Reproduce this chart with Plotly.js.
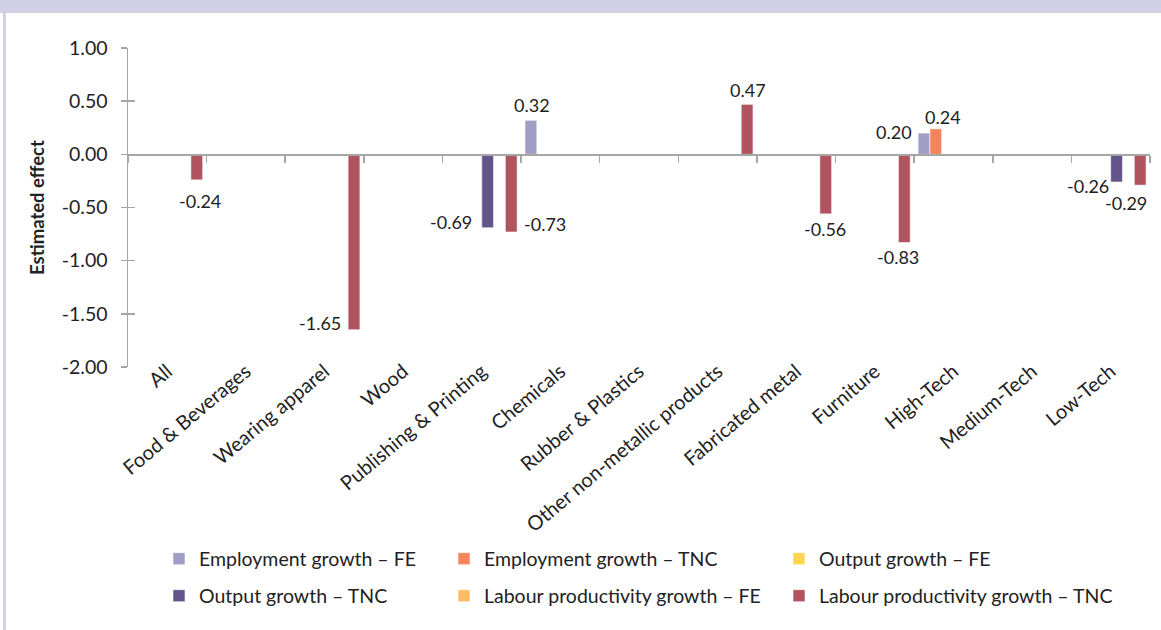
<!DOCTYPE html>
<html>
<head>
<meta charset="utf-8">
<script src="https://cdn.plot.ly/plotly-3.0.1.min.js"></script>
<style>
  html, body { margin: 0; padding: 0; background: #ffffff; }
  #chart { width: 1161px; height: 630px; }
</style>
</head>
<body>
<div id="chart"></div>
<script>
// ---------------- DATA ----------------
const categories = [
  'All', 'Food & Beverages', 'Wearing apparel', 'Wood', 'Publishing & Printing',
  'Chemicals', 'Rubber & Plastics', 'Other non-metallic products', 'Fabricated metal',
  'Furniture', 'High-Tech', 'Medium-Tech', 'Low-Tech'
];
const seriesNames = [
  'Employment growth – FE', 'Employment growth – TNC', 'Output growth – FE',
  'Output growth – TNC', 'Labour productivity growth – FE', 'Labour productivity growth – TNC'
];
const employmentFE  = [null, null, null, null, null, 0.32, null, null, null, null, 0.20, null, null];
const employmentTNC = [null, null, null, null, null, null, null, null, null, null, 0.24, null, null];
const outputFE      = [null, null, null, null, null, null, null, null, null, null, null, null, null];
const outputTNC     = [null, null, null, null, -0.69, null, null, null, null, null, null, null, -0.26];
const labourFE      = [null, null, null, null, null, null, null, null, null, null, null, null, null];
const labourTNC     = [-0.24, null, -1.65, null, -0.73, null, null, 0.47, -0.56, -0.83, null, null, -0.29];
const yTickVals = [1, 0.5, 0, -0.5, -1, -1.5, -2];
const yTickText = ['1.00', '0.50', '0.00', '-0.50', '-1.00', '-1.50', '-2.00'];

// ---------------- STYLE ----------------
const seriesValues = [employmentFE, employmentTNC, outputFE, outputTNC, labourFE, labourTNC];
const colors = ['#A09DC6', '#F4845C', '#FFD64D', '#63548B', '#FDBB63', '#B05460'];
const FONT = 'Lato, "Open Sans", sans-serif';
const TXT = '#222222';
const AXIS = '#A6A6A6';

// plot area in pixels
const L = 128, R = 1150, T = 48, B = 367, W = 1161, H = 630;
const px = x => (x - L) / (R - L);
const py = y => (B - y) / (B - T);
const Y_MIN = -2, Y_MAX = 1;

// data label placement (offsets from bar centre / bar end, pixels)
const labelStyle = {
  '5-0':  {xa: 'center', dx: 3,   dy: -21},
  '5-2':  {xa: 'right',  dx: -11, dy: 7},
  '3-4':  {xa: 'right',  dx: -14, dy: 6},
  '5-4':  {xa: 'left',   dx: 11,  dy: 8},
  '0-5':  {xa: 'center', dx: 1,   dy: 15},
  '5-7':  {xa: 'center', dx: 1,   dy: 14},
  '5-8':  {xa: 'center', dx: -1,  dy: -15},
  '5-9':  {xa: 'center', dx: -6,  dy: -14},
  '0-10': {xa: 'right',  dx: -10, dy: 1},
  '1-10': {xa: 'center', dx: 7,   dy: 12},
  '3-12': {xa: 'right',  dx: -6,  dy: -4},
  '5-12': {xa: 'center', dx: -14, dy: -18}
};

const BARGAP = 0.1;
const nS = seriesNames.length;
const barW = (1 - BARGAP) / nS;

// legend positions (6 separate legends, 3 columns x 2 rows)
const legendCols = [159, 444, 779];
const legendRows = [559, 596];
const legendOrder = [[0, 0], [1, 0], [2, 0], [0, 1], [1, 1], [2, 1]]; // [col,row] per series

const traces = seriesNames.map((name, s) => ({
  type: 'bar',
  name: name,
  x: categories,
  y: seriesValues[s],
  marker: {color: colors[s], line: {color: 'rgba(255,255,255,0.7)', width: 0.8}},
  legend: s === 0 ? 'legend' : 'legend' + (s + 1),
  hoverinfo: 'name+y'
}));

// invisible helper trace so the zero-line axis (with boundary ticks) is drawn
traces.push({
  type: 'scatter', mode: 'markers',
  x: categories, y: categories.map(() => null),
  xaxis: 'x2', yaxis: 'y2',
  showlegend: false, hoverinfo: 'skip',
  marker: {opacity: 0}
});

const annotations = [];
seriesValues.forEach((vals, s) => {
  vals.forEach((v, c) => {
    if (v === null) return;
    const st = labelStyle[s + '-' + c] || {xa: 'center', dx: 0, dy: v >= 0 ? 14 : -14};
    annotations.push({
      x: c + (s - (nS - 1) / 2) * barW,
      y: v,
      xref: 'x', yref: 'y',
      text: v.toFixed(2),
      showarrow: false,
      xanchor: st.xa, yanchor: 'middle',
      xshift: st.dx, yshift: st.dy,
      font: {family: FONT, size: 18, color: TXT}
    });
  });
});

const layout = {
  width: W, height: H,
  margin: {l: L, r: W - R, t: T, b: H - B, pad: 0},
  paper_bgcolor: '#ffffff',
  plot_bgcolor: 'rgba(0,0,0,0)',
  barmode: 'group',
  bargap: BARGAP,
  bargroupgap: 0,
  font: {family: FONT, size: 18, color: TXT},
  xaxis: {
    type: 'category',
    range: [-0.5, categories.length - 0.5],
    fixedrange: true,
    showline: false, ticks: '', showgrid: false, zeroline: false,
    tickangle: -40,
    ticklabelstandoff: -12,
    tickfont: {family: FONT, size: 20, color: TXT},
    automargin: false
  },
  xaxis2: {
    type: 'category',
    overlaying: 'x', anchor: 'free', position: (0 - Y_MIN) / (Y_MAX - Y_MIN),
    range: [-0.5, categories.length - 0.5],
    tickson: 'boundaries',
    ticks: 'outside', ticklen: 7, tickwidth: 1.5, tickcolor: AXIS,
    showline: true, linecolor: AXIS, linewidth: 1.8,
    showticklabels: false, showgrid: false, zeroline: false
  },
  yaxis: {
    range: [Y_MIN, Y_MAX],
    fixedrange: true,
    tickvals: yTickVals, ticktext: yTickText,
    ticks: 'outside', ticklen: 6, tickwidth: 1.5, tickcolor: AXIS,
    showline: true, linecolor: AXIS, linewidth: 1.5,
    showgrid: false, zeroline: false,
    ticklabelstandoff: 9,
    tickfont: {family: FONT, size: 19.5, color: TXT},
    automargin: false,
    title: {text: '<b>Estimated effect</b>', font: {family: FONT, size: 18.5, color: TXT}, standoff: 12}
  },
  yaxis2: {
    overlaying: 'y', anchor: 'x', side: 'left',
    range: [Y_MIN, Y_MAX],
    tickvals: yTickVals,
    ticks: 'inside', ticklen: 7, tickwidth: 1.5, tickcolor: AXIS,
    showline: false, showticklabels: false, showgrid: false, zeroline: false
  },
  annotations: annotations,
  shapes: [
    {type: 'rect', xref: 'paper', yref: 'paper', x0: px(0), x1: px(W), y0: py(13), y1: py(0),
     fillcolor: '#D1D0E7', line: {width: 0}, layer: 'below'},
    {type: 'rect', xref: 'paper', yref: 'paper', x0: px(3), x1: px(6), y0: py(H), y1: py(13),
     fillcolor: '#D1D0E7', line: {width: 0}, layer: 'below'}
  ],
  showlegend: true
};

legendOrder.forEach(([col, row], s) => {
  const key = s === 0 ? 'legend' : 'legend' + (s + 1);
  layout[key] = {
    x: px(legendCols[col]), y: py(legendRows[row]),
    xref: 'paper', yref: 'paper',
    xanchor: 'left', yanchor: 'middle',
    orientation: 'v',
    bgcolor: 'rgba(0,0,0,0)', borderwidth: 0,
    font: {family: FONT, size: 19.5, color: TXT},
    itemclick: false, itemdoubleclick: false
  };
});

Plotly.newPlot('chart', traces, layout, {displayModeBar: false, staticPlot: true});
</script>
</body>
</html>
